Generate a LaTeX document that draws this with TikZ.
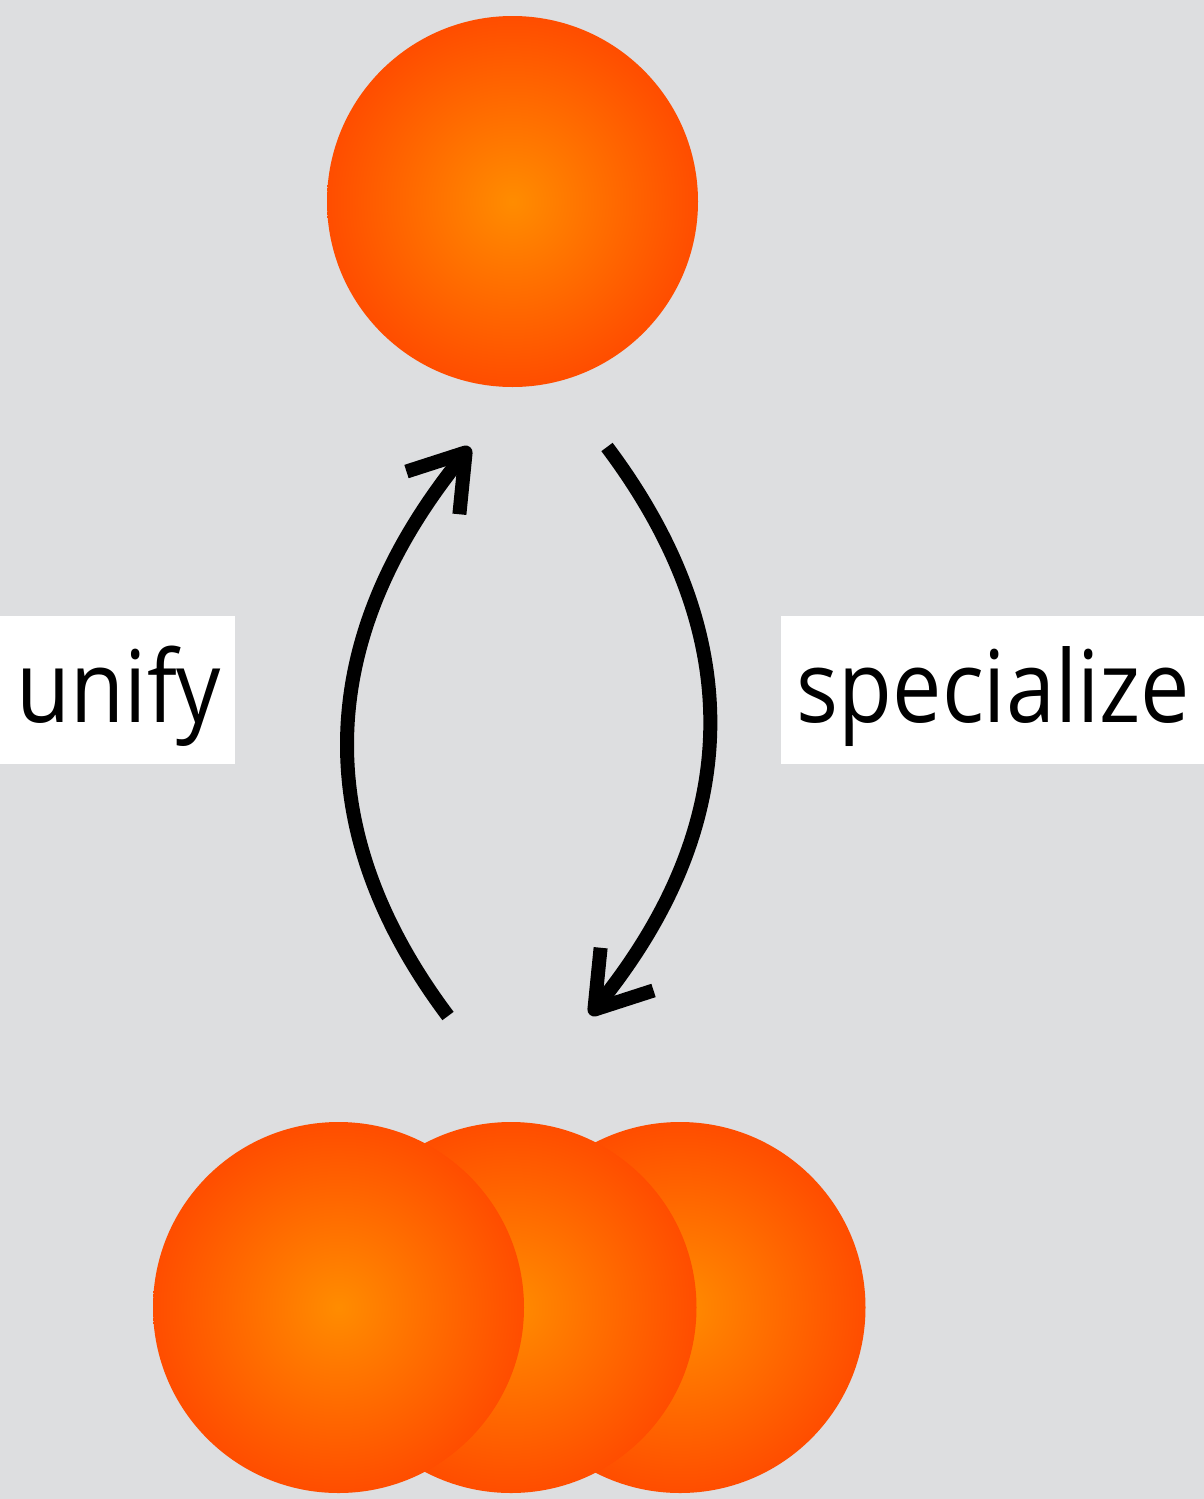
\documentclass[tikz,border=0pt]{standalone}
\usepackage{fontspec}
\setmainfont{Open Sans}[FakeStretch=0.88]
\usetikzlibrary{arrows.meta}
\definecolor{bg}{HTML}{DDDEE0}
\definecolor{ballin}{HTML}{FF8C00}
\definecolor{ballout}{HTML}{FF4D00}
\pgfdeclareradialshading{ball}{\pgfpoint{0bp}{0bp}}{color(0bp)=(ballin); color(25bp)=(ballout); color(50bp)=(ballout)}
\tikzset{
  orb/.style={circle, minimum size=185.5pt, inner sep=0pt, shading=ball},
  labelbox/.style={fill=white, inner sep=0pt, minimum height=74pt},
  labeltext/.style={anchor=base, inner sep=0pt, font=\fontsize{50}{60}\selectfont},
  arrowline/.style={line width=7pt, -{Straight Barb[length=26pt,width=34pt,line cap=butt,line join=round]}}
}
\begin{document}
\begin{tikzpicture}[x=0.5pt,y=-0.5pt]
\fill[bg] (0,0) rectangle (1204,1499);
\useasboundingbox (0,0) rectangle (1204,1499);
% circles
\node[orb] (top) at (512.5,201.5) {};
\node[orb] (right) at (680,1307.5) {};
\node[orb] (mid) at (511,1307.5) {};
\node[orb] (left) at (338.5,1307.5) {};
% label boxes
\node[labelbox, minimum width=117.5pt] (unifybox) at (117.5,690) {};
\node[labelbox, minimum width=211.5pt] (specbox) at (992.5,690) {};
\node[labeltext] (unify) at (119,722) {unify};
\node[labeltext] (spec) at (993.5,722) {specialize};
% arrows
\coordinate (lstart) at (448,1016);
\coordinate (ltip) at (470,447);
\coordinate (rstart) at (607,447);
\coordinate (rtip) at (590,1015);
\draw[arrowline] (lstart) .. controls (304,824) and (319,634) .. (ltip);
\draw[arrowline] (rstart) .. controls (751,639) and (741,828) .. (rtip);
\end{tikzpicture}
\end{document}
